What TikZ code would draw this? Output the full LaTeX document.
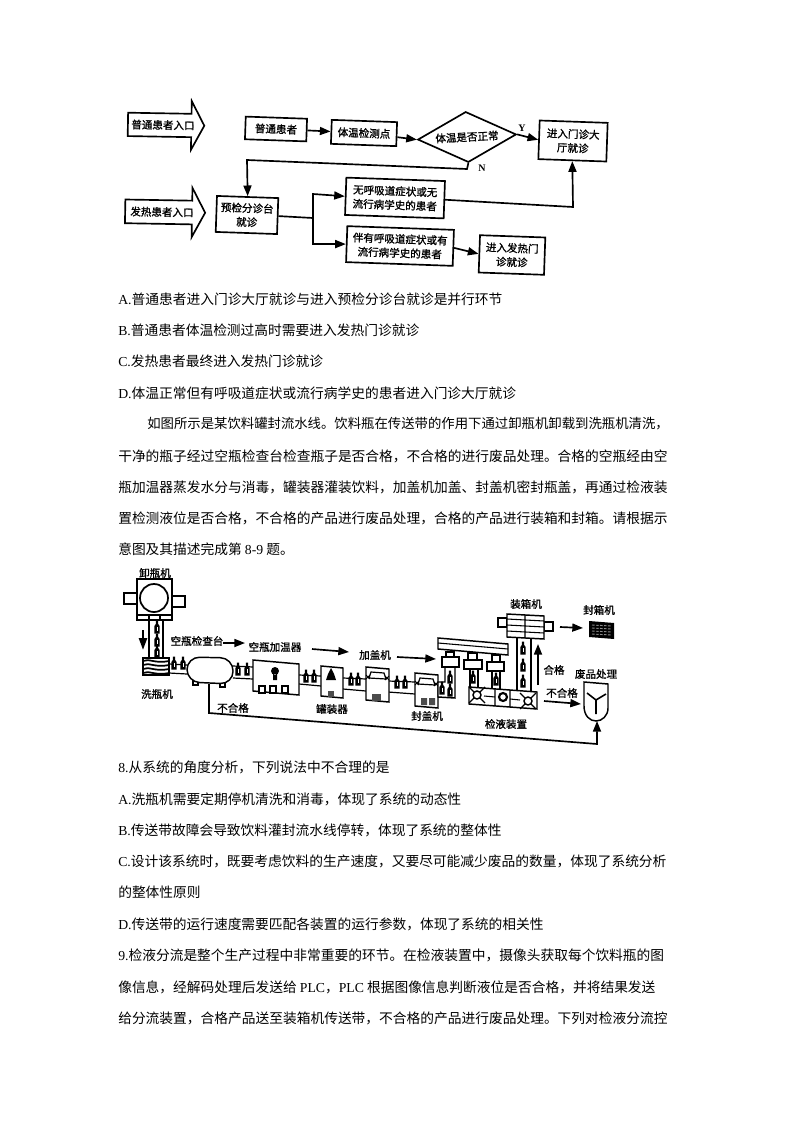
\documentclass[tikz,border=0pt]{standalone}
\usepackage{fontspec}
\setmainfont{Noto Sans CJK SC}
\newfontfamily\latinfont{Liberation Serif}
\newfontfamily\chartfont[FakeBold=1.2]{Noto Sans CJK SC}
\newcommand{\lat}[1]{{\latinfont #1}}
\usetikzlibrary{arrows.meta}
\usetikzlibrary{positioning}
\usetikzlibrary{shapes}
\tikzstyle{page line} = [anchor = west, inner sep = 0, font = \fontsize{10.3}{12}\selectfont]
\tikzstyle{flow text} = [font = \fontsize{7.9}{10.5}\selectfont\chartfont, align = center, inner sep = 0]
\tikzstyle{flow box} = [flow text, draw, line width = 1.25pt, rotate = -2, fill = white]
\tikzstyle{fat arrow} = [flow text, draw, line width = 1.25pt, rotate = -1, shape = single arrow,
                         single arrow head extend = 9.5pt, single arrow tip angle = 124,
                         inner ysep = 4.5pt, inner xsep = 2pt]
\tikzstyle{flow edge} = [line width = 1.25pt, -{Stealth[length = 8pt, width = 6pt, inset = 0pt]}]
\tikzstyle{flow line} = [line width = 1.25pt]
\tikzstyle{machine} = [line width = 1.1pt, fill = white]
\tikzstyle{belt} = [line width = .9pt]
\tikzstyle{machine text} = [font = \fontsize{7.9}{10}\selectfont\chartfont, inner sep = 0]
\tikzset{bottle/.pic = {
    \fill [black] (-2.6, 6.5) -- (2.6, 6.5) -- (2.6, -1) -- (1.2, -3) -- (1.2, -6.5) -- (-1.2, -6.5) -- (-1.2, -3) -- (-2.6, -1) -- cycle;
    \fill [white] (-.5, 4) rectangle (.7, 0);
}}
\begin{document}
\begin{tikzpicture}[x = .75pt, y = -.75pt]
    \useasboundingbox [fill = white] (0, 0) rectangle (794, 1123);

    % flow chart on top
    \node [fat arrow, minimum height = 57pt, minimum width = 36pt] (entry_a) at (163, 125) {普通患者入口};
    \node [fat arrow, minimum height = 60pt, minimum width = 37pt] (entry_b) at (162, 212) {发热患者入口};

    \node [flow box, minimum width = 46pt, minimum height = 17pt] (normal) at (276, 129) {普通患者};
    \node [flow box, minimum width = 49pt, minimum height = 18pt] (temp) at (364, 133) {体温检测点};
    \node [flow box, minimum width = 51pt, minimum height = 29pt] (clinic) at (573, 141) {进入门诊大\\厅就诊};
    \node [flow box, minimum width = 46pt, minimum height = 27pt] (desk) at (247, 215) {预检分诊台\\就诊};
    \node [flow box, minimum width = 74pt, minimum height = 28pt] (clear) at (395, 198) {无呼吸道症状或无\\流行病学史的患者};
    \node [flow box, minimum width = 80pt, minimum height = 27pt] (sick) at (400, 246) {伴有呼吸道症状或有\\流行病学史的患者};
    \node [flow box, minimum width = 49pt, minimum height = 28pt] (fever) at (512, 255) {进入发热门\\诊就诊};
    \node [flow text, draw, line width = 1.25pt, shape = diamond, rotate = 3, aspect = 2.1, inner sep = 0,
           minimum width = 74pt, minimum height = 38pt] (check) at (467, 137) {体温是否正常};
    \node [machine text, font = \fontsize{7.5}{8}\selectfont\latinfont\bfseries] (yes) at (522, 128) {Y};
    \node [machine text, font = \fontsize{7.5}{8}\selectfont\latinfont\bfseries] (no) at (482, 168) {N};

    \coordinate (no_a) at (467, 169);
    \coordinate (no_b) at (247, 160);
    \coordinate (fork) at (313, 218);
    \coordinate (fork_up) at (313, 194);
    \coordinate (fork_down) at (313, 244);
    \coordinate (clear_up) at (573, 207);

    \draw [flow edge] (normal) -- (temp);
    \draw [flow edge] (temp) -- (check.west);
    \draw [flow edge] (check.east) -- (clinic.west);
    \draw [flow edge] (check.south) -- (no_a) -- (no_b) -- (desk.north);
    \draw [flow line] (desk.east) -- (fork);
    \draw [flow edge] (fork) -- (fork_up) -- (clear.west);
    \draw [flow edge] (fork) -- (fork_down) -- (sick.west);
    \draw [flow edge] (clear.east) -- (clear_up) -- (clinic.south);
    \draw [flow edge] (sick.east) -- (fever.west);

    % text of the page
    \foreach \i/\x/\y/\t in {
        0/118/299/{\lat{A.}普通患者进入门诊大厅就诊与进入预检分诊台就诊是并行环节},
        1/118/330/{\lat{B.}普通患者体温检测过高时需要进入发热门诊就诊},
        2/118/361/{\lat{C.}发热患者最终进入发热门诊就诊},
        3/118/393/{\lat{D.}体温正常但有呼吸道症状或流行病学史的患者进入门诊大厅就诊},
        4/147/424/{\fontsize{10.03}{12}\selectfont 如图所示是某饮料罐封流水线。饮料瓶在传送带的作用下通过卸瓶机卸载到洗瓶机清洗，},
        5/118/456/{干净的瓶子经过空瓶检查台检查瓶子是否合格，不合格的进行废品处理。合格的空瓶经由空},
        6/118/487/{瓶加温器蒸发水分与消毒，罐装器灌装饮料，加盖机加盖、封盖机密封瓶盖，再通过检液装},
        7/118/518/{置检测液位是否合格，不合格的产品进行废品处理，合格的产品进行装箱和封箱。请根据示},
        8/118/549/{意图及其描述完成第 \lat{8-9} 题。},
        9/118/767/{\lat{8.}从系统的角度分析，下列说法中不合理的是},
        10/118/799/{\lat{A.}洗瓶机需要定期停机清洗和消毒，体现了系统的动态性},
        11/118/830/{\lat{B.}传送带故障会导致饮料灌封流水线停转，体现了系统的整体性},
        12/118/861/{\lat{C.}设计该系统时，既要考虑饮料的生产速度，又要尽可能减少废品的数量，体现了系统分析},
        13/118/892/{的整体性原则},
        14/118/924/{\lat{D.}传送带的运行速度需要匹配各装置的运行参数，体现了系统的相关性},
        15/118/955/{\lat{9.}检液分流是整个生产过程中非常重要的环节。在检液装置中，摄像头获取每个饮料瓶的图},
        16/118/987/{像信息，经解码处理后发送给 \lat{PLC}，\lat{PLC} 根据图像信息判断液位是否合格，并将结果发送},
        17/118/1018/{给分流装置，合格产品送至装箱机传送带，不合格的产品进行废品处理。下列对检液分流控}}
    {
        \node [page line] (line_\i) at (\x, \y) {\t};
    }

    % bottling line: belts first
    \draw [belt] (169, 664) -- (187, 665) (169, 673) -- (187, 674);
    \draw [belt] (233, 666) -- (253, 667) (233, 678) -- (253, 679);
    \draw [belt] (299, 675) -- (321, 676) (299, 684) -- (321, 686);
    \draw [belt] (343, 678) -- (366, 679) (343, 689) -- (366, 691);
    \draw [belt] (388, 681) -- (415, 682) (388, 692) -- (415, 694);

    % unloader and washer
    \draw [machine] (124, 593) rectangle (137, 604) (172, 596) rectangle (185, 607);
    \draw [machine] (137, 579) rectangle (172, 615);
    \draw [machine] (137, 615) rectangle (172, 620);
    \draw [machine, line width = 1.3pt] (154, 598) circle [radius = 14];
    \draw [machine] (149, 620) rectangle (163, 658);
    \draw [machine] (149, 615) -- (149, 620) (160, 615) -- (160, 620);
    \draw [line width = 1.8pt, -{Stealth[length = 9pt, width = 6pt, inset = 0pt]}] (143, 630) -- (143, 650);
    \draw [machine] (143, 658) rectangle (169, 675);
    \foreach \y in {661, 665, 669, 673}
    {
        \draw [line width = 1.3pt] (143, \y) .. controls (149, \y - 3) and (155, \y + 3) .. (169, \y);
    }

    % tank
    \draw [machine] (193, 680) rectangle (198, 685) (220, 682) rectangle (225, 687);
    \draw [machine, rounded corners = 9.5pt] (187, 657) -- (233, 658) -- (233, 684) -- (187, 682) -- cycle;

    % heater, filler, capper boxes
    \draw [machine] (253, 660) -- (299, 664) -- (299, 695) -- (253, 691) -- cycle;
    \fill (275, 671) circle [radius = 4] (273, 674) rectangle (277, 680);
    \foreach \x in {262, 273, 285}
    {
        \draw [machine] (\x - 3, 686) rectangle (\x + 3, 693);
    }
    \draw [machine] (321, 666) -- (343, 668) -- (343, 698) -- (321, 696) -- cycle;
    \fill (331, 668) -- (334, 674) -- (336, 680) -- (326, 680) -- (328, 674) -- cycle;
    \fill [black!70] (328, 691) rectangle (334, 697);
    \foreach \name/\x/\y in {lid/366/667, cap/415/673}
    {
        \draw [machine] (\x, \y) -- (\x + 23, \y + 2) -- (\x + 23, \y + 35) -- (\x, \y + 33) -- cycle;
        \draw [line width = .9pt] (\x + 3, \y + 11) -- (\x + 5, \y + 5) -- (\x + 18, \y + 6) -- (\x + 20, \y + 12) -- cycle;
        \draw [line width = .6pt] (\x, \y + 8) -- (\x + 4, \y + 12) (\x, \y + 12) -- (\x + 4, \y + 8)
                                  (\x + 19, \y + 9) -- (\x + 23, \y + 13) (\x + 19, \y + 13) -- (\x + 23, \y + 9);
    }
    \fill [black!70] (372, 694) rectangle (381, 701);
    \fill [black!70] (421, 698) rectangle (427, 705) (429, 698) rectangle (435, 705);

    % detector
    \draw [machine] (445, 667) -- (445, 682) -- (438, 682) -- (438, 697) -- (455, 698) -- (455, 667);
    \draw [machine] (470, 669) rectangle (478, 688);
    \draw [machine] (492, 671) rectangle (500, 690);
    \draw [machine] (517, 637) rectangle (531, 692);
    \draw [machine] (446, 652) rectangle (454, 657) (442, 657) rectangle (459, 667);
    \draw [machine] (468, 653) rectangle (477, 660) (464, 660) rectangle (482, 669);
    \draw [machine] (492, 655) rectangle (500, 662) (487, 662) rectangle (504, 671);
    \draw [machine] (438, 638) -- (508, 644) -- (508, 655) -- (438, 649) -- cycle;
    \draw [line width = .8pt] (438, 643) -- (508, 649);
    \draw [machine] (469, 687) -- (537, 692) -- (537, 709) -- (469, 704) -- cycle;
    \draw [line width = .8pt] (495, 689) -- (495, 706) (510, 690) -- (510, 707)
                              (484, 696) -- (495, 697) (510, 699) -- (520, 700);
    \foreach \x/\y in {477/695, 528/701}
    {
        \draw [line width = .9pt] (\x - 8, \y - 8) -- (\x + 8, \y + 8) (\x - 8, \y + 8) -- (\x + 8, \y - 8);
        \draw [machine] (\x, \y) circle [radius = 4];
    }
    \draw [line width = 1.6pt, fill = white] (503, 697) circle [radius = 4];

    % packer and sealer
    \draw [machine] (498, 618) rectangle (507, 627) (544, 622) rectangle (553, 631);
    \draw [machine] (507, 614) -- (544, 616) -- (544, 639) -- (507, 637) -- cycle;
    \draw [line width = .8pt] (507, 619) -- (544, 621) (507, 625) -- (544, 627) (507, 631) -- (544, 633)
                              (525, 615) -- (525, 638);
    \fill [black] (589, 621) -- (614, 623) -- (614, 639) -- (589, 637) -- cycle;
    \foreach \y in {625, 628, 631, 634}
    {
        \draw [black!45, line width = .7pt, dash pattern = on 2pt off 1pt] (592, \y) -- (611, \y + 1);
    }

    % waste bin
    \draw [machine] (584, 682) -- (608, 684) -- (608, 708)
        .. controls (608, 716) and (602, 721) .. (596, 721)
        .. controls (590, 721) and (584, 716) .. (584, 706) -- cycle;
    \draw [line width = 1.2pt] (587, 693) -- (596, 700) -- (606, 694) (596, 700) -- (596, 714);

    % bottles
    \foreach \x/\y in {157/627, 157/640, 157/651, 174/663, 183/663, 238/669, 247/669,
                       306/676, 314/676, 351/679, 358/679, 397/682, 405/682,
                       442/688, 450/677, 450/690, 473/677, 496/679, 523/648, 523/665, 523/681}
    {
        \pic at (\x, \y) {bottle};
    }

    % return pipe and arrows
    \coordinate (pipe_a) at (209, 684);
    \coordinate (pipe_b) at (209, 713);
    \coordinate (pipe_c) at (597, 744);
    \coordinate (pipe_d) at (597, 721);
    \draw [flow edge] (pipe_a) -- (pipe_b) -- (pipe_c) -- (pipe_d);

    \node [machine text] (unload) at (155, 573) {卸瓶机};
    \node [machine text] (wash) at (157, 694) {洗瓶机};
    \node [machine text] (inspect) at (197, 641) {空瓶检查台};
    \node [machine text] (warm) at (275, 647) {空瓶加温器};
    \node [machine text] (lid_on) at (375, 655) {加盖机};
    \node [machine text] (fill_in) at (332, 709) {罐装器};
    \node [machine text] (seal) at (427, 716) {封盖机};
    \node [machine text] (detect) at (506, 724) {检液装置};
    \node [machine text] (pack) at (526, 604) {装箱机};
    \node [machine text] (box) at (599, 610) {封箱机};
    \node [machine text] (good) at (554, 670) {合格};
    \node [machine text] (waste) at (596, 674) {废品处理};
    \node [machine text] (bad_a) at (562, 693) {不合格};
    \node [machine text] (bad_b) at (233, 708) {不合格};

    \coordinate (step_a) at (223, 643);
    \coordinate (step_b) at (245, 643);
    \coordinate (step_c) at (312, 649);
    \coordinate (step_d) at (349, 652);
    \coordinate (step_e) at (397, 657);
    \coordinate (step_f) at (436, 659);
    \coordinate (step_g) at (560, 627);
    \coordinate (step_h) at (583, 628);
    \coordinate (step_i) at (538, 685);
    \coordinate (step_j) at (538, 644);
    \coordinate (step_k) at (544, 701);
    \coordinate (step_l) at (581, 704);
    \draw [flow edge] (step_a) -- (step_b);
    \draw [flow edge] (step_c) -- (step_d);
    \draw [flow edge] (step_e) -- (step_f);
    \draw [flow edge] (step_g) -- (step_h);
    \draw [flow edge] (step_i) -- (step_j);
    \draw [flow edge] (step_k) -- (step_l);
\end{tikzpicture}
\end{document}
